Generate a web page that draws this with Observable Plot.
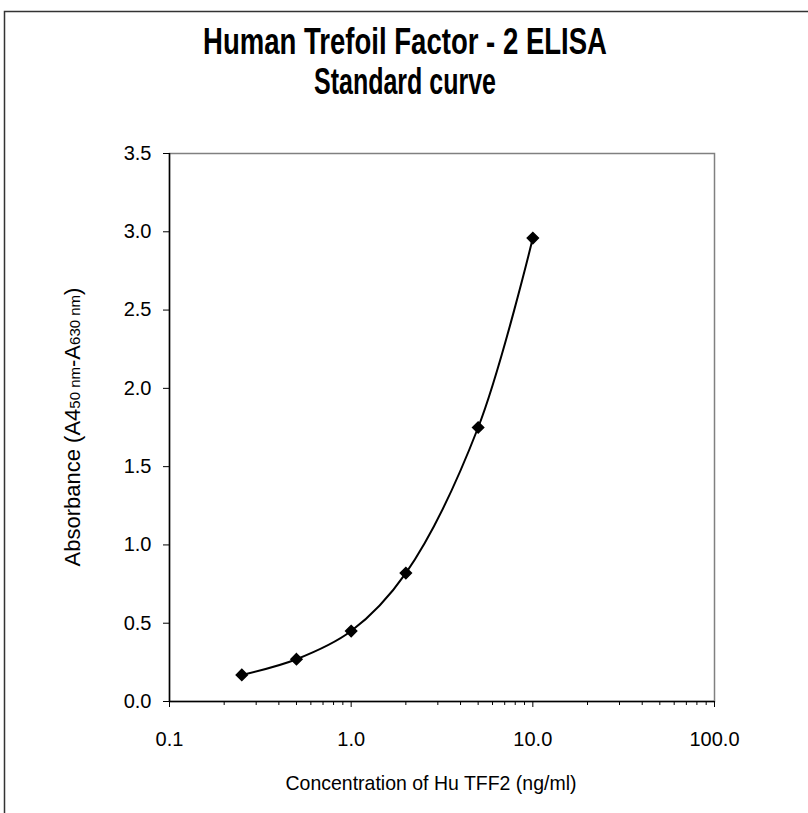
<!DOCTYPE html>
<html><head><meta charset="utf-8">
<script src="https://cdn.jsdelivr.net/npm/d3@7"></script>
<script src="https://cdn.jsdelivr.net/npm/@observablehq/plot@0.6"></script>
<style>body{margin:0;background:#fff}</style>
</head><body><div id="chart"></div>
<script>
const concentration = [0.25, 0.5, 1, 2, 5, 10];
const absorbance = [0.17, 0.27, 0.45, 0.82, 1.75, 2.96];
const xMajorTicks = [0.1, 1, 10, 100];
const xMinorTicks = [0.2,0.3,0.4,0.5,0.6,0.7,0.8,0.9,2,3,4,5,6,7,8,9,20,30,40,50,60,70,80,90];
const yTicks = [0, 0.5, 1, 1.5, 2, 2.5, 3, 3.5];
const titleLines = ["Human Trefoil Factor - 2 ELISA", "Standard curve"];
const xLabel = "Concentration of Hu TFF2 (ng/ml)";

const data = concentration.map((c, i) => ({c, a: absorbance[i]}));
const font = "'Liberation Sans', Arial, sans-serif";

const chart = Plot.plot({
  width: 808, height: 813,
  marginLeft: 169, marginRight: 94, marginTop: 153, marginBottom: 112,
  style: {fontFamily: font, fontSize: "20px", background: "white", color: "black"},
  x: {type: "log", domain: [0.1, 100], label: null},
  y: {domain: [0, 3.5], label: null},
  marks: [
    Plot.frame({stroke: "#808080", strokeWidth: 1.5}),
    Plot.ruleX([0.1], {stroke: "black", strokeWidth: 1.5}),
    Plot.ruleY([0], {stroke: "black", strokeWidth: 1.5}),
    Plot.axisY({ticks: yTicks, tickFormat: d3.format(".1f"), tickSize: 6, tickPadding: 12, label: null}),
    Plot.axisX({ticks: xMajorTicks, tickFormat: d3.format(".1f"), tickSize: 6, tickPadding: 24, label: null}),
    Plot.axisX({ticks: xMinorTicks, tickFormat: () => "", tickSize: 4, label: null}),
    Plot.line(data, {x: "c", y: "a", curve: "catmull-rom", stroke: "black", strokeWidth: 2}),
    Plot.dot(data, {x: "c", y: "a", symbol: "diamond2", r: 5, fill: "black", stroke: "black"})
  ]
});
document.getElementById("chart").appendChild(chart);

const svg = d3.select(chart);
svg.append("rect").attr("x", 4.5).attr("y", 11.5).attr("width", 820).attr("height", 820)
  .attr("fill", "none").attr("stroke", "#333").attr("stroke-width", 1.5);

const tl = [{t: titleLines[0], y: 54, w: 404}, {t: titleLines[1], y: 94, w: 182}];
tl.forEach(d => {
  svg.append("text").attr("x", 405).attr("y", d.y).attr("text-anchor", "middle")
    .attr("font-family", font).attr("font-weight", "bold").attr("font-size", 36)
    .attr("textLength", d.w).attr("lengthAdjust", "spacingAndGlyphs").text(d.t);
});

svg.append("text").attr("x", 431).attr("y", 790).attr("text-anchor", "middle")
  .attr("font-family", font).attr("font-size", 21)
  .attr("textLength", 291).attr("lengthAdjust", "spacingAndGlyphs").text(xLabel);

const yl = svg.append("text").attr("transform", "translate(80,427) rotate(-90)")
  .attr("text-anchor", "middle").attr("font-family", font).attr("font-size", 22);
yl.append("tspan").text("Absorbance (A4");
yl.append("tspan").attr("font-size", 15).text("50 nm");
yl.append("tspan").text("-A");
yl.append("tspan").attr("font-size", 15).text("630 nm");
yl.append("tspan").text(")");
</script>
</body></html>
